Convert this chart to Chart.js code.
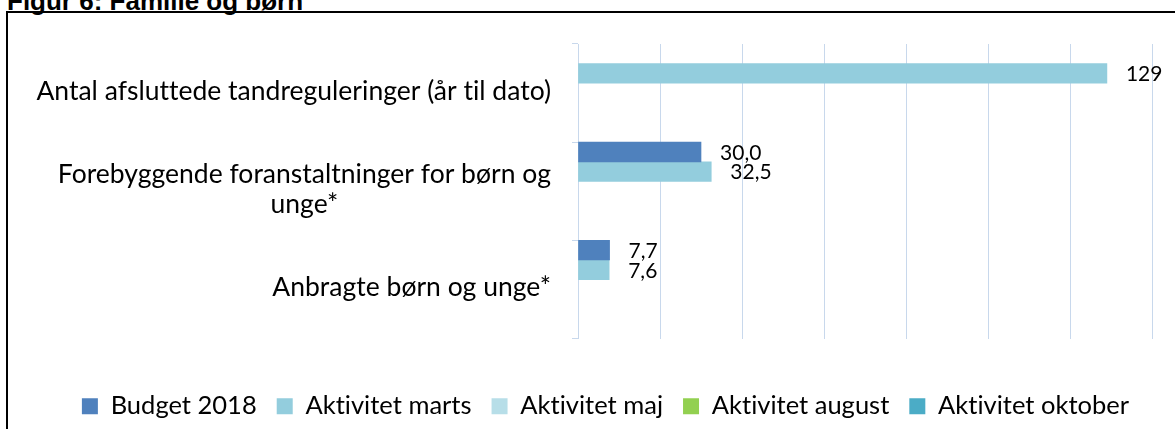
<!DOCTYPE html>
<html lang="da">
<head>
<meta charset="UTF-8">
<title>Figur 6: Familie og børn</title>
<script src="https://cdn.jsdelivr.net/npm/chart.js"></script>
<style>
    body {
        margin: 0;
        width: 1175px;
        height: 429px;
        overflow: hidden;
        position: relative;
        background: #fff;
    }
    #title {
        position: absolute;
        left: 7px;
        top: -14px;
        font: bold 26px "Liberation Sans", Arial, sans-serif;
        white-space: nowrap;
    }
    #frame {
        position: absolute;
        left: 6px;
        top: 11px;
        width: 1200px;
        height: 500px;
        border: 2px solid #000;
    }
    #wrap {
        position: absolute;
        left: 0;
        top: 0;
        width: 1175px;
        height: 429px;
    }
</style>
</head>
<body>
<div id="title">Figur 6: Familie og børn</div>
<div id="frame"></div>
<div id="wrap"><canvas id="chart"></canvas></div>

<script>
    // kategorier (linjeskift som i originalen)
    const categories = [
        ["Antal afsluttede tandreguleringer (år til dato)"],
        ["Forebyggende foranstaltninger for børn og", "unge*"],
        ["Anbragte børn og unge*"]
    ];
    const seriesNames = ["Budget 2018", "Aktivitet marts", "Aktivitet maj", "Aktivitet august", "Aktivitet oktober"];
    const budget2018 = [null, 30.0, 7.7];
    const aktivitetMarts = [129, 32.5, 7.6];
    const aktivitetMaj = [null, null, null];
    const aktivitetAugust = [null, null, null];
    const aktivitetOktober = [null, null, null];
    const decimals = [0, 1, 1];
    const xTicks = [0, 20, 40, 60, 80, 100, 120, 140];

    const colors = ["#4f81bd", "#93cddd", "#b7dee8", "#92d050", "#4bacc6"];
    const gridColor = "#c8d8ec";
    const labelFont = "26.5px Lato, sans-serif";
    const valueFont = "21px Lato, sans-serif";

    const seriesData = [budget2018, aktivitetMarts, aktivitetMaj, aktivitetAugust, aktivitetOktober];

    // ingen "ti"-ligaturer (som i Calibri-originalen)
    const noLigatures = {
        id: "noLigatures",
        beforeDraw(chart) {
            chart.ctx.letterSpacing = "0.01px";
        }
    };

    // kategoritekster: højrestillet blok, linjer centreret i blokken
    const categoryLabels = {
        id: "categoryLabels",
        afterDraw(chart) {
            const c = chart.ctx;
            const y = chart.scales.y;
            c.save();
            c.font = labelFont;
            c.fillStyle = "#000";
            c.textAlign = "center";
            c.textBaseline = "middle";
            const right = chart.chartArea.left - 27;
            const lineH = 30;
            categories.forEach((lines, i) => {
                const w = Math.max(...lines.map(l => c.measureText(l).width));
                const cx = right - w / 2;
                const cy = y.getPixelForValue(i) - 2;
                lines.forEach((l, j) => {
                    c.fillText(l, cx, cy + (j - (lines.length - 1) / 2) * lineH);
                });
            });
            c.restore();
        }
    };

    // dataetiketter til højre for søjlerne
    const valueLabels = {
        id: "valueLabels",
        afterDatasetsDraw(chart) {
            const c = chart.ctx;
            c.save();
            c.font = valueFont;
            c.fillStyle = "#000";
            c.textAlign = "left";
            c.textBaseline = "middle";
            chart.data.datasets.forEach((ds, di) => {
                const meta = chart.getDatasetMeta(di);
                meta.data.forEach((bar, i) => {
                    const v = ds.data[i];
                    if (v === null || v === undefined) return;
                    const txt = v.toFixed(decimals[i]).replace(".", ",");
                    c.fillText(txt, bar.x + 19, bar.y + 1);
                });
            });
            c.restore();
        }
    };

    const ctx = document.getElementById("chart").getContext("2d");
    const chart = new Chart(ctx, {
        type: "bar",
        data: {
            labels: categories,
            datasets: seriesNames.map((name, i) => ({
                label: name,
                data: seriesData[i],
                backgroundColor: colors[i],
                borderWidth: 0,
                categoryPercentage: 1.0,
                barPercentage: 1.0
            }))
        },
        options: {
            indexAxis: "y",
            responsive: true,
            maintainAspectRatio: false,
            animation: false,
            layout: {
                padding: { left: 60, top: 44, right: 23, bottom: 0 }
            },
            scales: {
                x: {
                    min: xTicks[0],
                    max: xTicks[xTicks.length - 1],
                    afterBuildTicks: s => { s.ticks = xTicks.map(v => ({ value: v })); },
                    ticks: { display: false },
                    grid: { color: gridColor, lineWidth: 1, drawTicks: false },
                    border: { display: false },
                    afterFit: s => { s.height = 35; }
                },
                y: {
                    ticks: { display: false },
                    grid: { drawOnChartArea: false, drawTicks: true, tickLength: 6, color: gridColor },
                    border: { display: true, color: gridColor },
                    afterFit: s => { s.width = 518; }
                }
            },
            plugins: {
                legend: {
                    position: "bottom",
                    labels: {
                        font: { family: "Lato", size: 25.5 },
                        color: "#000",
                        boxWidth: 16,
                        boxHeight: 16,
                        padding: 20
                    }
                },
                tooltip: { enabled: false }
            }
        },
        plugins: [noLigatures, categoryLabels, valueLabels]
    });
</script>
</body>
</html>
